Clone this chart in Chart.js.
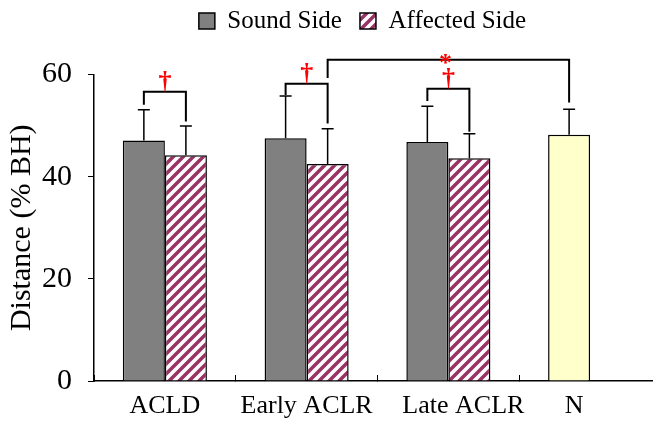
<!DOCTYPE html>
<html>
<head>
<meta charset="utf-8">
<script src="https://cdn.jsdelivr.net/npm/chart.js@4.4.0/dist/chart.umd.min.js"></script>
<style>
  html, body { margin: 0; padding: 0; background: #fff; overflow: hidden; }
  #wrap { width: 664px; height: 421px; }
</style>
</head>
<body>
<div id="wrap"><canvas id="chart"></canvas></div>
<script>
const groups = ['ACLD', 'Early ACLR', 'Late ACLR', 'N'];
const soundMean = [47.1, 47.5, 46.8, 48.2];
const soundSD = [6.0, 8.3, 7.0, 5.0];
const affectedMean = [44.2, 42.5, 43.6, null];
const affectedSD = [5.7, 6.9, 4.8, null];
const yTicks = [0, 20, 40, 60];

// brackets: left end [group, dataset], right end [group, dataset], level, leg ends, marker
const bracketLeft = [[0, 0], [1, 0], [2, 0], [1, 1]];
const bracketRight = [[0, 1], [1, 1], [2, 1], [3, 0]];
const bracketLevel = [56.6, 58.2, 57.2, 62.9];
const bracketLegLeft = [54.1, 56.0, 54.8, 59.3];
const bracketLegRight = [50.8, 50.4, 48.8, 54.5];
const bracketMark = ['\u2020', '\u2020', '\u2020', '*'];

// the original places two category labels a little off centre
const labelNudge = [0, 0, 15, -16];

const FONT = "'Liberation Serif', 'Times New Roman', serif";

function makeHatch() {
  const c = document.createElement('canvas');
  c.width = 10; c.height = 10;
  const g = c.getContext('2d');
  g.fillStyle = '#fff';
  g.fillRect(0, 0, 10, 10);
  g.strokeStyle = '#993366';
  g.lineWidth = 3.5;
  g.beginPath();
  g.moveTo(-5, 5); g.lineTo(5, -5);
  g.moveTo(0, 10); g.lineTo(10, 0);
  g.moveTo(5, 15); g.lineTo(15, 5);
  g.stroke();
  return g.createPattern(c, 'repeat');
}

const extras = {
  id: 'extras',
  afterLayout(chart) {
    // legend sits right of centre and close to the top in the original
    const lg = chart.legend;
    lg.left += 32; lg.right += 32;
    lg.top -= 31; lg.bottom -= 31;
  },
  afterDatasetsDraw(chart) {
    const ctx = chart.ctx;
    const y = chart.scales.y;
    const sds = [soundSD, affectedSD];
    const means = [soundMean, affectedMean];
    ctx.save();
    ctx.strokeStyle = '#000';
    // error bars (upper only)
    ctx.lineWidth = 1.5;
    [0, 1].forEach((d) => {
      const meta = chart.getDatasetMeta(d);
      meta.data.forEach((bar, i) => {
        if (means[d][i] == null) return;
        const top = y.getPixelForValue(means[d][i] + sds[d][i]);
        ctx.beginPath();
        ctx.moveTo(bar.x, bar.y);
        ctx.lineTo(bar.x, top);
        ctx.moveTo(bar.x - 6, top);
        ctx.lineTo(bar.x + 6, top);
        ctx.stroke();
      });
    });
    // significance brackets
    ctx.lineWidth = 2;
    bracketLevel.forEach((lv, k) => {
      const a = chart.getDatasetMeta(bracketLeft[k][1]).data[bracketLeft[k][0]];
      const b = chart.getDatasetMeta(bracketRight[k][1]).data[bracketRight[k][0]];
      const yl = y.getPixelForValue(lv);
      ctx.beginPath();
      ctx.moveTo(a.x, y.getPixelForValue(bracketLegLeft[k]));
      ctx.lineTo(a.x, yl);
      ctx.lineTo(b.x, yl);
      ctx.lineTo(b.x, y.getPixelForValue(bracketLegRight[k]));
      ctx.stroke();
      ctx.fillStyle = '#ff0000';
      ctx.textAlign = 'center';
      ctx.textBaseline = 'alphabetic';
      ctx.font = 'bold 26px ' + FONT;
      if (bracketMark[k] === '*') {
        ctx.fillText(bracketMark[k], (a.x + b.x) / 2 - 3, yl + 11);
      } else {
        ctx.fillText(bracketMark[k], (a.x + b.x) / 2, yl - 3);
      }
    });
    ctx.restore();
  },
  afterDraw(chart) {
    // category labels
    const ctx = chart.ctx;
    const x = chart.scales.x;
    ctx.save();
    ctx.fillStyle = '#000';
    ctx.font = '26px ' + FONT;
    ctx.textAlign = 'center';
    ctx.textBaseline = 'alphabetic';
    groups.forEach((g, i) => {
      ctx.fillText(g, x.getPixelForTick(i) + labelNudge[i], x.top + 32);
    });
    ctx.restore();
  }
};

const hatch = makeHatch();

new Chart(document.getElementById('chart'), {
  type: 'bar',
  data: {
    labels: groups,
    datasets: [
      {
        label: 'Sound Side',
        data: soundMean,
        backgroundColor: ['#808080', '#808080', '#808080', '#ffffcc'],
        borderColor: '#000',
        borderWidth: 1.5
      },
      {
        label: 'Affected Side',
        data: affectedMean,
        backgroundColor: hatch,
        borderColor: '#000',
        borderWidth: 1.5
      }
    ]
  },
  options: {
    responsive: true,
    maintainAspectRatio: false,
    animation: false,
    categoryPercentage: 0.593,
    barPercentage: 1,
    layout: { padding: { top: 21.5, right: 3, left: 0, bottom: 0 } },
    scales: {
      x: {
        grid: { display: true, drawOnChartArea: false, tickLength: -6, color: '#000' },
        border: { color: '#000', width: 1.5 },
        ticks: { display: false },
        afterFit: (s) => { s.height = 40; }
      },
      y: {
        min: 0,
        max: 60,
        afterBuildTicks: (ax) => { ax.ticks = yTicks.map((v) => ({ value: v })); },
        afterFit: (s) => { s.width = 94; },
        grid: { drawOnChartArea: false, tickLength: 6, color: '#000' },
        border: { color: '#000', width: 1.5 },
        ticks: { color: '#000', padding: 16, font: { family: FONT, size: 30 } },
        title: { display: true, text: 'Distance (% BH)', color: '#000', padding: { top: 4, bottom: 2 }, font: { family: FONT, size: 30 } }
      }
    },
    plugins: {
      legend: {
        labels: { color: '#000', boxWidth: 16, boxHeight: 16, padding: 18, font: { family: FONT, size: 25 } }
      },
      tooltip: { enabled: false }
    }
  },
  plugins: [extras]
});
</script>
</body>
</html>
